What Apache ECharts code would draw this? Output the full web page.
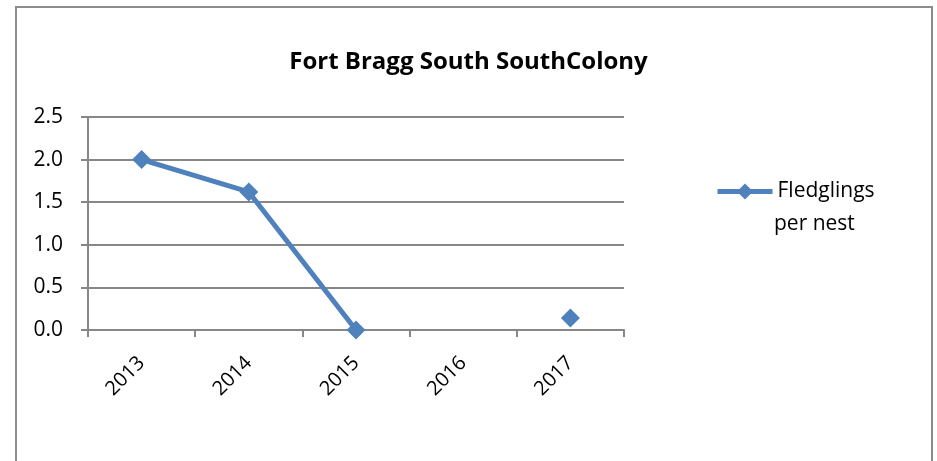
<!DOCTYPE html>
<html>
<head>
<meta charset="utf-8">
<script src="https://cdn.jsdelivr.net/npm/echarts@6/dist/echarts.min.js"></script>
<style>
    html, body { margin: 0; padding: 0; background: #fff; }
    #chart { width: 937px; height: 461px; }
</style>
</head>
<body>
<div id="chart"></div>
<script>
const years = ['2013', '2014', '2015', '2016', '2017'];
const fledglingsPerNest = [2.0, 1.62, 0.0, null, 0.14];
const seriesName = 'Fledglings per nest';
const legendLines = ['Fledglings', 'per nest'];
const titleText = 'Fort Bragg South SouthColony';

const FONT = '"Open Sans", "Noto Sans", sans-serif';
const GRID_GREY = '#878787';
const BLUE = '#4F81BD';

const chart = echarts.init(document.getElementById('chart'));

chart.setOption({
    animation: false,
    backgroundColor: '#fff',
    title: {
        text: titleText,
        left: 'center',
        top: 45,
        textStyle: { fontFamily: FONT, fontSize: 24, fontWeight: 'bold', color: '#000' }
    },
    legend: {
        left: 715,
        top: 181,
        padding: 0,
        itemWidth: 55,
        itemHeight: 20,
        itemGap: 2,
        lineStyle: { width: 5 },
        formatter: () => legendLines[0],
        textStyle: { fontFamily: FONT, fontSize: 21, color: '#000' }
    },
    grid: { left: 88, right: 313, top: 117, bottom: 131 },
    xAxis: {
        type: 'category',
        data: years,
        boundaryGap: true,
        axisLine: { lineStyle: { color: GRID_GREY, width: 2 } },
        axisTick: { show: true, length: 7, lineStyle: { color: GRID_GREY, width: 2 } },
        axisLabel: {
            rotate: 45, margin: 30,
            fontFamily: FONT, fontSize: 20, color: '#000'
        },
        splitLine: { show: false }
    },
    yAxis: {
        type: 'value',
        min: 0,
        max: 2.5,
        interval: 0.5,
        axisLine: { show: true, lineStyle: { color: GRID_GREY, width: 2 } },
        axisTick: { show: true, length: 7, lineStyle: { color: GRID_GREY, width: 2 } },
        axisLabel: {
            margin: 25,
            formatter: v => v.toFixed(1),
            fontFamily: FONT, fontSize: 21, color: '#000'
        },
        splitLine: { lineStyle: { color: GRID_GREY, width: 2 } }
    },
    graphic: [{
        type: 'rect',
        shape: { x: 16, y: 7, width: 916, height: 480 },
        style: { fill: 'none', stroke: '#8c8c8c', lineWidth: 2 },
        silent: true
    }, {
        type: 'text',
        left: 774,
        top: 214,
        style: { text: legendLines[1], fontFamily: FONT, fontSize: 21, fill: '#000' },
        silent: true
    }],
    series: [{
        name: seriesName,
        type: 'line',
        data: fledglingsPerNest,
        connectNulls: false,
        symbol: 'diamond',
        symbolSize: 19,
        showAllSymbol: true,
        lineStyle: { color: BLUE, width: 5 },
        itemStyle: { color: BLUE }
    }]
});
</script>
</body>
</html>
